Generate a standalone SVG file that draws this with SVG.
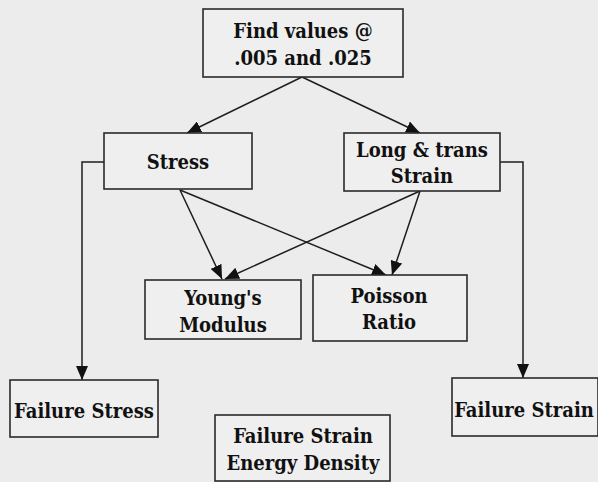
<svg xmlns="http://www.w3.org/2000/svg" width="598" height="482" viewBox="0 0 598 482">
<defs>
<style>
.box{fill:#efefef;stroke:#2a2a2a;stroke-width:1.6}
.t{font-family:'DejaVu Serif Condensed','DejaVu Serif','Liberation Serif',serif;font-stretch:condensed;font-weight:700;font-size:20px;fill:#111;text-anchor:middle}
.c{fill:none;stroke:#1e1e1e;stroke-width:1.5}
</style>
<marker id="ah" markerUnits="userSpaceOnUse" markerWidth="15" markerHeight="12" refX="14" refY="6" orient="auto">
<path d="M0,0 L14,6 L0,12 z" fill="#111"/>
</marker>
</defs>
<rect width="598" height="482" fill="#ececec"/>
<g id="connectors">
<line class="c" x1="302" y1="77" x2="187" y2="133" marker-end="url(#ah)"/>
<line class="c" x1="302" y1="77" x2="420" y2="133" marker-end="url(#ah)"/>
<line class="c" x1="180" y1="190" x2="222" y2="279" marker-end="url(#ah)"/>
<line class="c" x1="180" y1="190" x2="386" y2="275" marker-end="url(#ah)"/>
<line class="c" x1="420" y1="191" x2="225" y2="279" marker-end="url(#ah)"/>
<line class="c" x1="420" y1="191" x2="392" y2="275" marker-end="url(#ah)"/>
<polyline class="c" points="104,162 82,162 82,380" marker-end="url(#ah)"/>
<polyline class="c" points="500,162 523,162 523,378" marker-end="url(#ah)"/>
</g>
<g id="find">
<rect class="box" x="203" y="9" width="200" height="68"/>
<text class="t" x="303" y="38">Find values @</text>
<text class="t" x="303" y="65">.005 and .025</text>
</g>
<g id="stress">
<rect class="box" x="104" y="133" width="148" height="56"/>
<text class="t" x="178" y="169">Stress</text>
</g>
<g id="strain">
<rect class="box" x="344" y="133" width="156" height="58"/>
<text class="t" x="422" y="157">Long &amp; trans</text>
<text class="t" x="422" y="183">Strain</text>
</g>
<g id="young">
<rect class="box" x="145" y="280" width="156" height="59"/>
<text class="t" x="223" y="305">Young's</text>
<text class="t" x="223" y="332">Modulus</text>
</g>
<g id="poisson">
<rect class="box" x="313" y="275" width="154" height="66"/>
<text class="t" x="389" y="303">Poisson</text>
<text class="t" x="389" y="329">Ratio</text>
</g>
<g id="failstress">
<rect class="box" x="10" y="380" width="148" height="57"/>
<text class="t" x="84" y="418">Failure Stress</text>
</g>
<g id="failstrain">
<rect class="box" x="452" y="378" width="146" height="58"/>
<text class="t" x="524" y="417">Failure Strain</text>
</g>
<g id="energy">
<rect class="box" x="215" y="415" width="175" height="66"/>
<text class="t" x="303" y="443">Failure Strain</text>
<text class="t" x="303" y="470">Energy Density</text>
</g>
</svg>
